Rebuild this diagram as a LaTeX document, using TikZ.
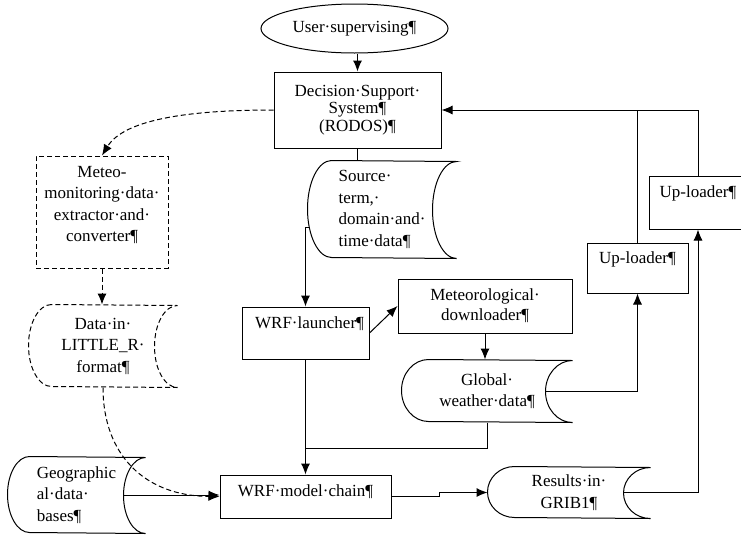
\documentclass[tikz,border=0pt]{standalone}
\usepackage{fontspec}
\setmainfont{Liberation Serif}
\usetikzlibrary{shapes.geometric,arrows.meta,calc}
\tikzset{
  base/.style={font=\fontsize{17}{21.5}\selectfont, line width=1pt, inner sep=0pt, align=center},
  box/.style={base, draw, rectangle},
  dbox/.style={box, dash pattern=on 5pt off 3pt},
  sd/.style={base, rectangle},
  ln/.style={line width=1pt},
  arr/.style={ln, -{Latex[length=11pt,width=9pt]}},
  darr/.style={arr, dash pattern=on 5pt off 3pt},
}
\newcommand\sdoutline[4][]{%
  \draw[ln,#1] ($(#2.north west)+(#3pt,0)$) arc[start angle=90,end angle=270,x radius=#3pt,y radius=#4pt]
    -- (#2.south east) arc[start angle=270,end angle=90,x radius=#3pt,y radius=#4pt] -- cycle;}
\begin{document}
\begin{tikzpicture}[x=1pt,y=1pt]
\fill[white] (0,0) rectangle (741,-536);
\useasboundingbox (0,0) rectangle (741,-536);

% nodes
\node[box, ellipse, minimum width=187pt, minimum height=49pt] (user) at (354.5,-28.5) {User·supervising¶};
\node[box, minimum width=167pt, minimum height=76pt, font=\fontsize{17}{17.5}\selectfont] (dss) at (357.5,-110) {Decision·Support·\\System¶\\(RODOS)¶};
\node[sd, minimum width=148pt, minimum height=97pt, align=left] (src) at (382,-209.5) {Source·\\term,·\\domain·and·\\time·data¶};
\sdoutline{src}{24}{48.5}
\node[box, minimum width=127pt, minimum height=52pt] (launch) at (305.5,-333) {\hspace*{8pt}WRF·launcher¶\\\mbox{}};
\node[box, minimum width=174pt, minimum height=54pt, font=\fontsize{17}{20}\selectfont] (down) at (485,-306) {Meteorological·\\downloader¶};
\node[sd, minimum width=170pt, minimum height=62pt] (glob) at (487,-391) {Global·\\weather·data¶};
\sdoutline{glob}{27}{31}
\node[sd, minimum width=137pt, minimum height=76pt, align=left] (geo) at (76.5,-495) {Geographic\\al·data·\\bases¶};
\sdoutline{geo}{22}{38}
\node[box, minimum width=171pt, minimum height=43pt, text depth=12pt] (chain) at (305.5,-496.5) {WRF·model·chain¶};
\node[sd, minimum width=162pt, minimum height=51pt] (res) at (569,-492.5) {Results·in·\\GRIB1¶};
\sdoutline{res}{27}{25.5}
\node[box, minimum width=101pt, minimum height=50pt] (up1) at (637.5,-268) {Up-loader¶\\\mbox{}};
\node[box, minimum width=98pt, minimum height=53pt] (up2) at (698,-202.5) {Up-loader¶\\\mbox{}};
\node[dbox, minimum width=132pt, minimum height=112pt, text depth=16pt] (meteo) at (102,-212) {Meteo-\\monitoring·data·\\extractor·and·\\converter¶};
\node[sd, minimum width=148pt, minimum height=82pt] (little) at (103,-346) {Data·in·\\LITTLE\_R·\\format¶};
\sdoutline[dash pattern=on 5pt off 3pt]{little}{23}{41}

% connection points
\coordinate (srcout) at (309,-227);
\coordinate (j) at (305.5,-448);
\coordinate (globout) at (545,-391);
\coordinate (resout) at (623,-492.5);
\coordinate (geoout) at (123,-495);

% connectors
\draw[arr] (user.south -| dss.north) -- (dss.north);
\draw[ln] (dss.south) -- (dss.south |- src.north);
\draw[arr] (srcout) -| (launch.north);
\draw[arr] (launch.east) -- (down.west);
\draw[arr] (down.south) -- (down.south |- glob.north);
\draw[ln] (glob.south) |- (j);
\draw[arr] (launch.south) -- (chain.north);
\draw[arr] (globout) -| (up1.south);
\draw[ln] (up1.north) -- (up1.north |- dss.east);
\draw[arr] (up2.north) |- (dss.east);
\draw[arr] (resout) -| (up2.south);
\draw[arr] (chain.east) -- ++(48,0) |- (res.west);
\draw[arr] (geoout) -- (geoout -| chain.west);
\draw[darr] (dss.west) .. controls (195,-110) and (125,-118) .. (meteo.north);
\draw[darr] (meteo.south) -- (meteo.south |- little.north);
\draw[darr] (little.south) .. controls (103,-455) and (145,-496) .. (chain.west);
\end{tikzpicture}
\end{document}
